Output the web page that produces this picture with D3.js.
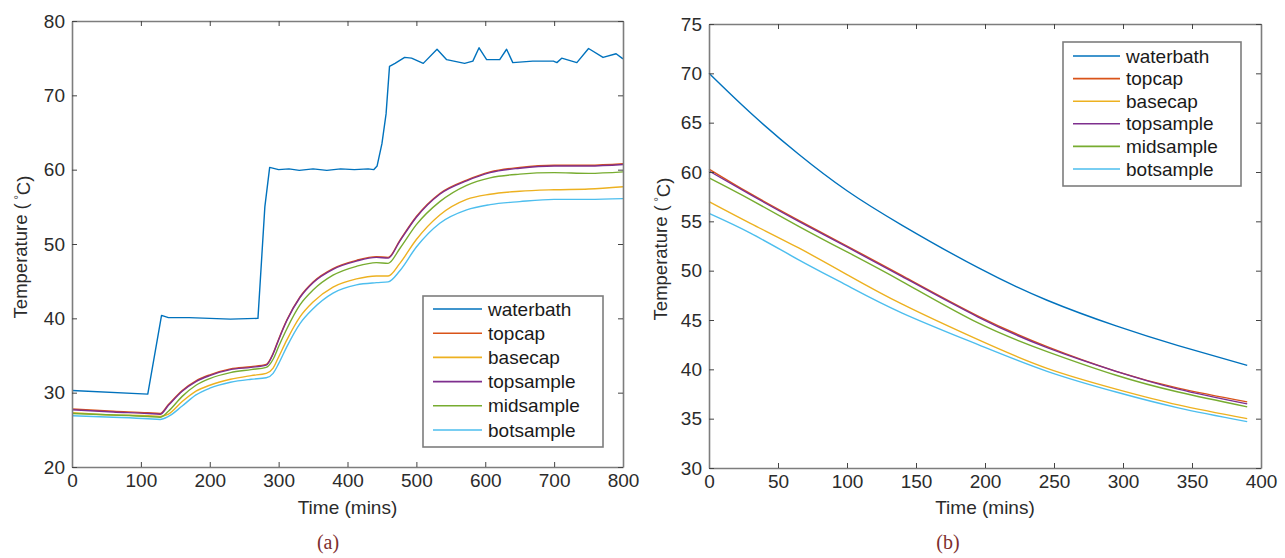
<!DOCTYPE html>
<html>
<head>
<meta charset="utf-8">
<script src="https://cdnjs.cloudflare.com/ajax/libs/d3/7.8.5/d3.min.js"></script>
<style>
    body { margin: 0; background: #fff; }
    svg { display: block; font-family: "Liberation Sans", Arial, sans-serif; }
</style>
</head>
<body>
<svg id="chart" width="1285" height="558"></svg>
<script>
// SERIES NAMES AND MATLAB-STYLE COLOURS
var seriesNames = [ "waterbath", "topcap", "basecap", "topsample", "midsample", "botsample" ];
var seriesColors = [ "#0072BD", "#D95319", "#EDB120", "#7E2F8E", "#77AC30", "#4DBEEE" ];

// (a) HEATING RUN
var leftBathTime = [ 0, 110, 130, 140, 170, 200, 230, 270, 280, 287, 300, 315, 330, 350, 370, 390, 410, 430, 438, 443,
    450, 456, 461, 469, 483, 493, 510, 530, 544, 570, 582, 591, 602, 621, 631, 640, 669, 699, 704, 711, 733, 750, 771, 790, 800 ];
var leftWaterbath = [ 30.3, 29.8, 40.4, 40.1, 40.1, 40.0, 39.9, 40.0, 55.0, 60.3, 60.0, 60.1, 59.9, 60.1, 59.9, 60.1, 60.0, 60.1, 60.0, 60.5,
    63.5, 67.5, 73.9, 74.3, 75.1, 75.0, 74.3, 76.2, 74.8, 74.3, 74.6, 76.4, 74.8, 74.8, 76.2, 74.4, 74.6, 74.6, 74.4, 75.0, 74.4, 76.3, 75.1, 75.6, 74.9 ];

var leftTime = [ 0, 60, 110, 128, 140, 160, 180, 200, 230, 260, 282, 292, 300, 312, 331, 350, 379, 413, 442, 459, 476, 500, 534, 573, 607, 650, 700, 750, 800 ];
var leftTopcap = [ 27.8, 27.5, 27.3, 27.2, 28.4, 30.3, 31.6, 32.4, 33.2, 33.5, 33.8, 35.3, 37.2, 39.8, 42.9, 44.9, 46.7, 47.8, 48.3, 48.2, 50.5, 53.7, 56.8, 58.6, 59.7, 60.3, 60.6, 60.6, 60.8 ];
var leftBasecap = [ 27.3, 27.0, 26.9, 26.8, 27.1, 28.8, 30.2, 31.0, 31.8, 32.3, 32.6, 33.3, 34.8, 37.1, 40.2, 42.2, 44.2, 45.3, 45.7, 45.7, 47.4, 50.6, 53.9, 56.0, 56.7, 57.1, 57.3, 57.4, 57.7 ];
var leftTopsample = [ 27.7, 27.4, 27.2, 27.1, 28.3, 30.2, 31.5, 32.3, 33.1, 33.4, 33.7, 35.2, 37.1, 39.7, 42.8, 44.8, 46.6, 47.7, 48.2, 48.1, 50.4, 53.6, 56.7, 58.5, 59.6, 60.2, 60.5, 60.5, 60.7 ];
var leftMidsample = [ 27.2, 27.0, 26.8, 26.7, 27.5, 29.5, 31.0, 31.9, 32.7, 33.1, 33.4, 34.5, 36.2, 38.6, 41.8, 43.8, 45.8, 47.0, 47.5, 47.4, 49.4, 52.6, 55.7, 57.9, 58.9, 59.4, 59.6, 59.5, 59.7 ];
var leftBotsample = [ 26.9, 26.7, 26.5, 26.4, 26.8, 28.2, 29.7, 30.6, 31.4, 31.8, 32.0, 32.6, 33.9, 36.2, 39.3, 41.3, 43.4, 44.5, 44.8, 44.9, 46.4, 49.6, 52.8, 54.6, 55.3, 55.7, 56.0, 56.0, 56.1 ];

// (b) COOLING RUN
var rightTime = [ 0, 30, 65, 100, 140, 195, 245, 295, 340, 390 ];
var rightWaterbath = [ 70.0, 66.0, 61.8, 58.1, 54.6, 50.3, 47.0, 44.4, 42.4, 40.4 ];
var rightTopcap = [ 60.3, 57.8, 55.1, 52.5, 49.5, 45.4, 42.3, 39.8, 38.1, 36.7 ];
var rightBasecap = [ 57.0, 54.8, 52.3, 49.6, 46.6, 43.0, 40.1, 38.0, 36.4, 35.0 ];
var rightTopsample = [ 60.1, 57.7, 55.0, 52.4, 49.4, 45.3, 42.2, 39.8, 38.0, 36.5 ];
var rightMidsample = [ 59.4, 57.2, 54.5, 51.9, 48.9, 44.7, 41.8, 39.4, 37.7, 36.2 ];
var rightBotsample = [ 55.8, 53.8, 51.1, 48.5, 45.7, 42.5, 39.8, 37.7, 36.1, 34.7 ];

// TICK VALUES
var leftXTicks = [ 0, 100, 200, 300, 400, 500, 600, 700, 800 ];
var leftYTicks = [ 20, 30, 40, 50, 60, 70, 80 ];
var rightXTicks = [ 0, 50, 100, 150, 200, 250, 300, 350, 400 ];
var rightYTicks = [ 30, 35, 40, 45, 50, 55, 60, 65, 70, 75 ];

var svg = d3.select( "#chart" );
var axisGrey = "#7d7d7d";
var textColor = "#2b2b2b";

// DRAWS ONE MATLAB-LIKE PANEL
function drawPanel( p ) {
    var x = d3.scaleLinear().domain( [ p.xTicks[ 0 ], p.xTicks[ p.xTicks.length - 1 ] ] ).range( [ p.left, p.right ] );
    var y = d3.scaleLinear().domain( [ p.yTicks[ 0 ], p.yTicks[ p.yTicks.length - 1 ] ] ).range( [ p.bottom, p.top ] );
    var g = svg.append( "g" );

    p.series.forEach( function ( s, i ) {
        var line = d3.line()
            .x( function ( d ) { return x( d[ 0 ] ); } )
            .y( function ( d ) { return y( d[ 1 ] ); } )
            .curve( s.sharp ? d3.curveLinear : p.curve );
        g.append( "path" )
            .datum( d3.zip( s.time, s.values ) )
            .attr( "d", line )
            .attr( "fill", "none" )
            .attr( "stroke", seriesColors[ i ] )
            .attr( "stroke-width", 1.4 )
            .attr( "stroke-linejoin", "round" );
    } );

    // four sided box with inward ticks
    var axes = [
        { a: d3.axisBottom( x ).tickValues( p.xTicks ), t: "translate(0," + p.bottom + ")" },
        { a: d3.axisTop( x ).tickValues( p.xTicks ).tickFormat( "" ), t: "translate(0," + p.top + ")" },
        { a: d3.axisLeft( y ).tickValues( p.yTicks ), t: "translate(" + p.left + ",0)" },
        { a: d3.axisRight( y ).tickValues( p.yTicks ).tickFormat( "" ), t: "translate(" + p.right + ",0)" }
    ];
    axes.forEach( function ( ax ) {
        var ag = g.append( "g" )
            .attr( "transform", ax.t )
            .call( ax.a.tickSizeInner( -5 ).tickSizeOuter( 0 ).tickPadding( 7 ) );
        ag.select( ".domain" ).attr( "stroke", axisGrey ).attr( "stroke-width", 1.6 );
        ag.selectAll( ".tick line" ).attr( "stroke", "#444" ).attr( "stroke-width", 1 );
        ag.selectAll( ".tick text" )
            .attr( "fill", textColor )
            .style( "font-size", "19px" )
            .style( "font-family", "'Liberation Sans', Arial, sans-serif" );
    } );

    // axis titles
    g.append( "text" )
        .attr( "x", ( p.left + p.right ) / 2 )
        .attr( "y", 514 )
        .attr( "text-anchor", "middle" )
        .attr( "fill", textColor )
        .style( "font-size", "19px" )
        .text( "Time (mins)" );

    var yl = g.append( "text" )
        .attr( "transform", "translate(" + p.yLabelX + "," + ( ( p.top + p.bottom ) / 2 + 3 ) + ") rotate(-90)" )
        .attr( "text-anchor", "middle" )
        .attr( "fill", textColor )
        .style( "font-size", "18.5px" );
    yl.append( "tspan" ).text( "Temperature (\u2009" );
    yl.append( "tspan" ).attr( "dy", "-0.45em" ).style( "font-size", "11px" ).text( "\u00b0" );
    yl.append( "tspan" ).attr( "dy", "0.45em" ).text( "C)" );

    // legend
    var L = p.legend;
    g.append( "rect" )
        .attr( "x", L.x ).attr( "y", L.y )
        .attr( "width", L.w ).attr( "height", L.h )
        .attr( "fill", "#fff" )
        .attr( "stroke", axisGrey )
        .attr( "stroke-width", 1.6 );
    seriesNames.forEach( function ( name, i ) {
        var ry = L.y + L.first + i * L.step;
        g.append( "line" )
            .attr( "x1", L.x + 10 ).attr( "x2", L.x + 10 + L.len )
            .attr( "y1", ry ).attr( "y2", ry )
            .attr( "stroke", seriesColors[ i ] )
            .attr( "stroke-width", 1.6 );
        g.append( "text" )
            .attr( "x", L.x + 16 + L.len )
            .attr( "y", ry )
            .attr( "dy", "0.35em" )
            .attr( "fill", "#1a1a1a" )
            .style( "font-size", "19px" )
            .text( name );
    } );

    // panel caption
    svg.append( "text" )
        .attr( "x", p.captionX )
        .attr( "y", 549 )
        .attr( "text-anchor", "middle" )
        .attr( "fill", "#7d2e2e" )
        .style( "font-family", "'Liberation Serif', 'Times New Roman', serif" )
        .style( "font-size", "20px" )
        .text( p.caption );
}

drawPanel( {
    left: 72, right: 623, top: 21, bottom: 467,
    xTicks: leftXTicks, yTicks: leftYTicks,
    yLabelX: 27, captionX: 328, caption: "(a)",
    curve: d3.curveMonotoneX,
    legend: { x: 423, y: 296, w: 180, h: 151, first: 13, step: 24.2, len: 49 },
    series: [
        { time: leftBathTime, values: leftWaterbath, sharp: true },
        { time: leftTime, values: leftTopcap },
        { time: leftTime, values: leftBasecap },
        { time: leftTime, values: leftTopsample },
        { time: leftTime, values: leftMidsample },
        { time: leftTime, values: leftBotsample }
    ]
} );

drawPanel( {
    left: 709, right: 1261, top: 24, bottom: 468,
    xTicks: rightXTicks, yTicks: rightYTicks,
    yLabelX: 667, captionX: 948, caption: "(b)",
    curve: d3.curveNatural,
    legend: { x: 1063, y: 42, w: 178, h: 144, first: 14, step: 22.6, len: 47 },
    series: [
        { time: rightTime, values: rightWaterbath },
        { time: rightTime, values: rightTopcap },
        { time: rightTime, values: rightBasecap },
        { time: rightTime, values: rightTopsample },
        { time: rightTime, values: rightMidsample },
        { time: rightTime, values: rightBotsample }
    ]
} );
</script>
</body>
</html>
